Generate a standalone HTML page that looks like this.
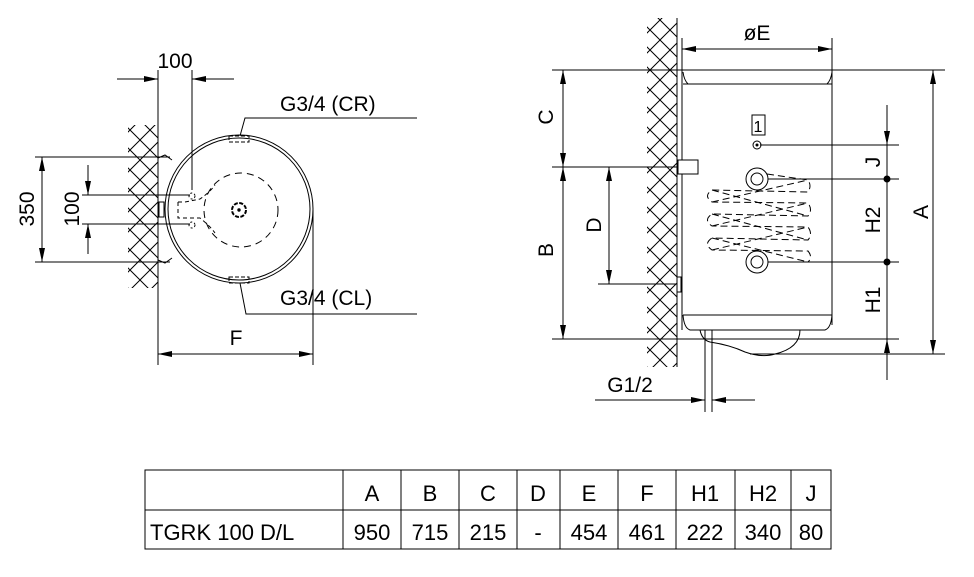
<!DOCTYPE html>
<html><head><meta charset="utf-8"><style>
html,body{margin:0;padding:0;background:#fff}
svg{display:block}
text{font-family:"Liberation Sans",Arial,sans-serif;fill:#000}
</style></head><body>
<svg width="974" height="577" viewBox="0 0 974 577" xmlns="http://www.w3.org/2000/svg">
<defs>
<pattern id="h" width="20" height="20" patternUnits="userSpaceOnUse">
<path d="M0,0 L20,20 M20,0 L0,20" stroke="#000" stroke-width="1" fill="none"/>
</pattern>
<marker id="b" viewBox="0 0 14 6" refX="14" refY="3" markerWidth="14" markerHeight="6" orient="auto-start-reverse" markerUnits="userSpaceOnUse">
<path d="M0,0 L14,3 L0,6 Z" fill="#000"/>
</marker>
</defs>
<g stroke="#000" stroke-width="1" fill="none">
<!-- LEFT VIEW -->
<rect x="128" y="125" width="30" height="163" fill="url(#h)" stroke="none"/>
<line x1="158" y1="70" x2="158" y2="365"/>
<line x1="192" y1="70" x2="192" y2="190"/>
<line x1="117" y1="79" x2="158" y2="79" marker-end="url(#b)"/>
<line x1="234" y1="79" x2="192" y2="79" marker-end="url(#b)"/>
<circle cx="239" cy="209" r="74"/>
<circle cx="239" cy="209" r="71"/>
<circle cx="241" cy="210" r="37" stroke-dasharray="7,5"/>
<circle cx="239" cy="210" r="7" stroke-width="2" stroke-dasharray="4,1.5"/>
<circle cx="239" cy="210" r="1.2" fill="#000"/>
<rect x="159" y="202" width="5" height="15" fill="#fff"/>
<path d="M158,158 L165,155 L172,160 M158,260 L165,263 L172,258"/>
<path d="M178,202 L185,202 L200,199 Q210,192 215,185 M178,202 L178,218 L200,218 Q210,226 215,233" stroke-dasharray="4,3"/>
<circle cx="192" cy="196" r="3" stroke-dasharray="2,2"/>
<circle cx="192" cy="225" r="3" stroke-dasharray="2,2"/>
<rect x="229" y="136" width="20" height="6" stroke-dasharray="4,2"/>
<rect x="229" y="277" width="20" height="6" stroke-dasharray="4,2"/>
<line x1="35" y1="157" x2="170" y2="157"/>
<line x1="35" y1="262" x2="170" y2="262"/>
<line x1="42" y1="157" x2="42" y2="262" marker-start="url(#b)" marker-end="url(#b)"/>
<line x1="82" y1="195" x2="190" y2="195"/>
<line x1="82" y1="224" x2="190" y2="224"/>
<line x1="88" y1="165" x2="88" y2="195" marker-end="url(#b)"/>
<line x1="88" y1="254" x2="88" y2="224" marker-end="url(#b)"/>
<polyline points="240,136 245,118 417,118"/>
<polyline points="240,283 246,314 417,314"/>
<line x1="313" y1="210" x2="313" y2="365"/>
<line x1="158" y1="354" x2="313" y2="354" marker-start="url(#b)" marker-end="url(#b)"/>

<!-- RIGHT VIEW -->
<rect x="647" y="18" width="30" height="349" fill="url(#h)" stroke="none"/>
<line x1="677" y1="18" x2="677" y2="367"/>
<line x1="682" y1="38" x2="682" y2="330"/>
<line x1="832" y1="38" x2="832" y2="325"/>
<line x1="682" y1="49" x2="832" y2="49" marker-start="url(#b)" marker-end="url(#b)"/>
<path d="M683,84 L832,84 M683,315 L832,315"/>
<path d="M683,72 Q684,80 688,84 M832,72 Q831,80 827,84"/>
<path d="M683,315 Q684,328 690,330 L825,330 Q831,328 832,315"/>
<line x1="552" y1="70" x2="945" y2="70"/>
<line x1="563" y1="70" x2="563" y2="167" marker-start="url(#b)" marker-end="url(#b)"/>
<line x1="552" y1="167" x2="680" y2="167"/>
<rect x="678" y="160" width="20" height="14" fill="#fff"/>
<line x1="563" y1="167" x2="563" y2="339" marker-start="url(#b)" marker-end="url(#b)"/>
<line x1="609" y1="167" x2="609" y2="284" marker-start="url(#b)" marker-end="url(#b)"/>
<line x1="598" y1="284" x2="680" y2="284"/>
<rect x="677" y="277" width="4" height="15" fill="#fff"/>
<line x1="552" y1="339" x2="899" y2="339"/>
<line x1="933" y1="70" x2="933" y2="354" marker-start="url(#b)" marker-end="url(#b)"/>
<line x1="750" y1="354" x2="945" y2="354"/>
<path d="M700,330 Q702,340 710,342 Q730,345 745,352 Q762,358 775,354 Q800,348 800,330"/>
<line x1="705" y1="330" x2="705" y2="412"/>
<line x1="712" y1="330" x2="712" y2="412"/>
<line x1="595" y1="400" x2="705" y2="400" marker-end="url(#b)"/>
<line x1="755" y1="400" x2="712" y2="400" marker-end="url(#b)"/>
<line x1="887" y1="105" x2="887" y2="145" marker-end="url(#b)"/>
<line x1="887" y1="145" x2="887" y2="339"/>
<line x1="887" y1="380" x2="887" y2="339" marker-end="url(#b)"/>
<line x1="760" y1="145" x2="899" y2="145"/>
<line x1="757" y1="179" x2="899" y2="179"/>
<line x1="757" y1="262" x2="899" y2="262"/>
<circle cx="887" cy="179" r="3" fill="#000"/>
<circle cx="887" cy="262" r="3" fill="#000"/>
<rect x="752" y="115" width="13" height="20"/>
<circle cx="757" cy="145" r="4"/>
<circle cx="757" cy="145" r="1" fill="#000"/>
<circle cx="757" cy="179" r="11" fill="#fff"/>
<circle cx="757" cy="179" r="6"/>
<circle cx="757" cy="262" r="11" fill="#fff"/>
<circle cx="757" cy="262" r="6"/>
<g stroke-dasharray="7,4">
<path d="M767,174 L808,180 Q812,186 808,192 L712,190 Q703,196 712,202 L808,203 Q813,210 808,216 L712,214 Q703,220 712,226 L808,227 Q813,234 808,240 L712,238 Q703,244 712,250 L808,251 Q813,257 808,262 L767,262"/>
<path d="M712,190 L808,216 M712,214 L808,240 M712,238 L808,262 M712,202 L808,180 M712,226 L808,203 M712,250 L808,227"/>
</g>
</g>
<g font-size="21">
<text x="175" y="68" text-anchor="middle">100</text>
<text x="280" y="111">G3/4 (CR)</text>
<text x="280" y="305">G3/4 (CL)</text>
<text x="236" y="345" text-anchor="middle">F</text>
<text transform="translate(34,209) rotate(-90)" text-anchor="middle">350</text>
<text transform="translate(79,209) rotate(-90)" text-anchor="middle">100</text>
<text x="757" y="40" text-anchor="middle">øE</text>
<text transform="translate(553,117) rotate(-90)" text-anchor="middle">C</text>
<text transform="translate(553,250) rotate(-90)" text-anchor="middle">B</text>
<text transform="translate(601,225) rotate(-90)" text-anchor="middle">D</text>
<text transform="translate(880,162) rotate(-90)" text-anchor="middle">J</text>
<text transform="translate(880,220) rotate(-90)" text-anchor="middle">H2</text>
<text transform="translate(880,300) rotate(-90)" text-anchor="middle">H1</text>
<text transform="translate(928,212) rotate(-90)" text-anchor="middle">A</text>
<text x="630" y="392" text-anchor="middle">G1/2</text>
<text x="758" y="132" text-anchor="middle" font-size="16">1</text>
</g>
<g stroke="#000" stroke-width="1" fill="none">
<rect x="145" y="470" width="686" height="79"/>
<line x1="145" y1="510" x2="831" y2="510"/>
<path d="M343,470V549M401,470V549M459,470V549M517,470V549M560,470V549M618,470V549M676,470V549M735,470V549M791,470V549"/>
</g>
<g font-size="22" text-anchor="middle">
<text x="372" y="501">A</text><text x="430" y="501">B</text><text x="488" y="501">C</text><text x="538" y="501">D</text><text x="589" y="501">E</text><text x="647" y="501">F</text><text x="705" y="501">H1</text><text x="763" y="501">H2</text><text x="811" y="501">J</text>
<text x="372" y="540">950</text><text x="430" y="540">715</text><text x="488" y="540">215</text><text x="538" y="540">-</text><text x="589" y="540">454</text><text x="647" y="540">461</text><text x="705" y="540">222</text><text x="763" y="540">340</text><text x="811" y="540">80</text>
<text x="150" y="540" text-anchor="start">TGRK 100 D/L</text>
</g>
</svg>
</body></html>
